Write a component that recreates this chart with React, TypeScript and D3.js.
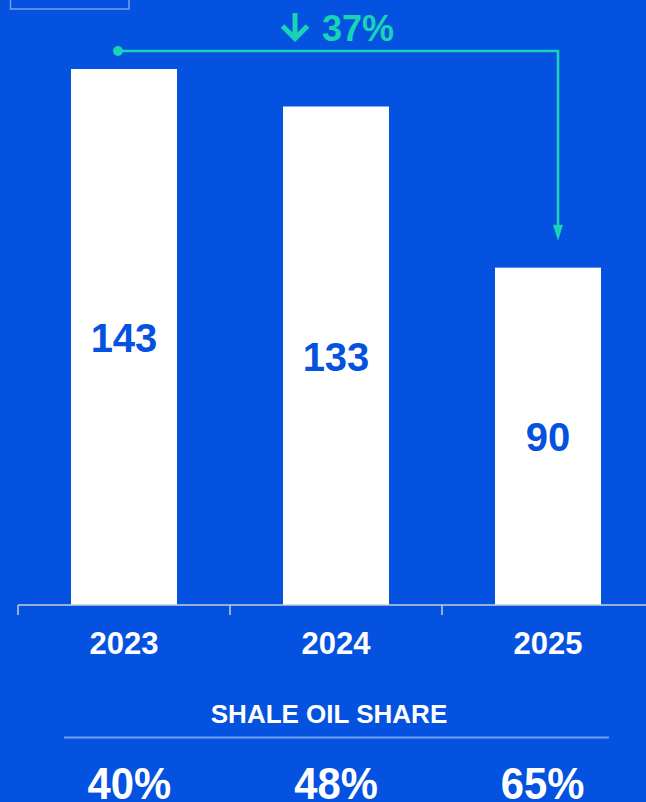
import React from "react";
import * as d3 from "d3";

const years = ["2023", "2024", "2025"];
const values = [143, 133, 90];
const shareLabels = ["40%", "48%", "65%"];
const changeLabel = "37%";
const shareTitle = "SHALE OIL SHARE";

const W = 646;
const H = 802;
const BG = "#0551E0";
const TEAL = "#19D3B4";
const FONT = "'Liberation Sans', Arial, Helvetica, sans-serif";

export default function App() {
  const x = d3
    .scaleBand<string>()
    .domain(years)
    .range([18, 654])
    .paddingInner(0.5)
    .paddingOuter(0.25);
  const y = d3.scaleLinear().domain([0, 143]).range([605, 69]);
  const bw = x.bandwidth();
  const baseY = y(0);

  const xs = d3.scaleBand<string>().domain(years).range([26, 646]);

  const first = years[0];
  const last = years[years.length - 1];
  const startX = (x(first) as number) + bw / 2 - 6;
  const endX = (x(last) as number) + bw / 2 + 10;
  const lineY = 51;
  const endTip = y(values[values.length - 1]) - 27;

  return (
    <svg
      width={W}
      height={H}
      style={{ position: "absolute", left: 0, top: 0, display: "block" }}
      fontFamily={FONT}
    >
      <rect x={0} y={0} width={W} height={H} fill={BG} />
      {/* top-left box outline */}
      <rect x={10.5} y={-10} width={118.5} height={19} fill="none" stroke="rgba(255,255,255,0.45)" strokeWidth={1.5} />

      {/* bars */}
      {years.map((yr, i) => (
        <rect key={yr} x={x(yr)} y={y(values[i])} width={bw} height={baseY - y(values[i])} fill="#ffffff" />
      ))}
      {years.map((yr, i) => (
        <text
          key={"v" + yr}
          x={(x(yr) as number) + bw / 2}
          y={(y(values[i]) + baseY) / 2 + 15}
          textAnchor="middle"
          fontSize={40}
          fontWeight="bold"
          fill={BG}
        >
          {values[i]}
        </text>
      ))}

      {/* axis */}
      <line x1={18} x2={W} y1={baseY} y2={baseY} stroke="#c9cdd8" strokeWidth={1.5} />
      {years.map((yr) => {
        const tx = (x(yr) as number) - bw / 2;
        return <line key={"t" + yr} x1={tx} x2={tx} y1={baseY} y2={baseY + 10} stroke="#c9cdd8" strokeWidth={1.5} />;
      })}
      {years.map((yr) => (
        <text
          key={"l" + yr}
          x={(x(yr) as number) + bw / 2}
          y={654}
          textAnchor="middle"
          fontSize={31}
          fontWeight="bold"
          fill="#ffffff"
        >
          {yr}
        </text>
      ))}

      {/* change annotation */}
      <circle cx={startX} cy={lineY} r={5} fill={TEAL} />
      <path
        d={`M${startX},${lineY}H${endX}V${endTip - 14}`}
        fill="none"
        stroke={TEAL}
        strokeWidth={2.6}
      />
      <path d={`M${endX - 5},${endTip - 16}L${endX + 5},${endTip - 16}L${endX},${endTip}Z`} fill={TEAL} />
      <g stroke={TEAL} strokeWidth={5} fill="none" strokeLinecap="butt">
        <line x1={295} x2={295} y1={13} y2={37} />
        <path d="M282.5,26L295,38.5L307.5,26" />
      </g>
      <text x={322} y={41} fontSize={36} fontWeight="bold" fill={TEAL}>
        {changeLabel}
      </text>

      {/* shale oil share */}
      <text x={329} y={723} textAnchor="middle" fontSize={26} fontWeight="bold" fill="#ffffff">
        {shareTitle}
      </text>
      <line x1={64} x2={609} y1={737.5} y2={737.5} stroke="rgba(255,255,255,0.45)" strokeWidth={2} />
      {years.map((yr, i) => {
        const cx = (xs(yr) as number) + xs.bandwidth() / 2;
        return (
          <text
            key={"s" + yr}
            transform={`translate(${cx},799) scale(0.95,1)`}
            textAnchor="middle"
            fontSize={44}
            fontWeight="bold"
            fill="#ffffff"
          >
            {shareLabels[i]}
          </text>
        );
      })}
    </svg>
  );
}
